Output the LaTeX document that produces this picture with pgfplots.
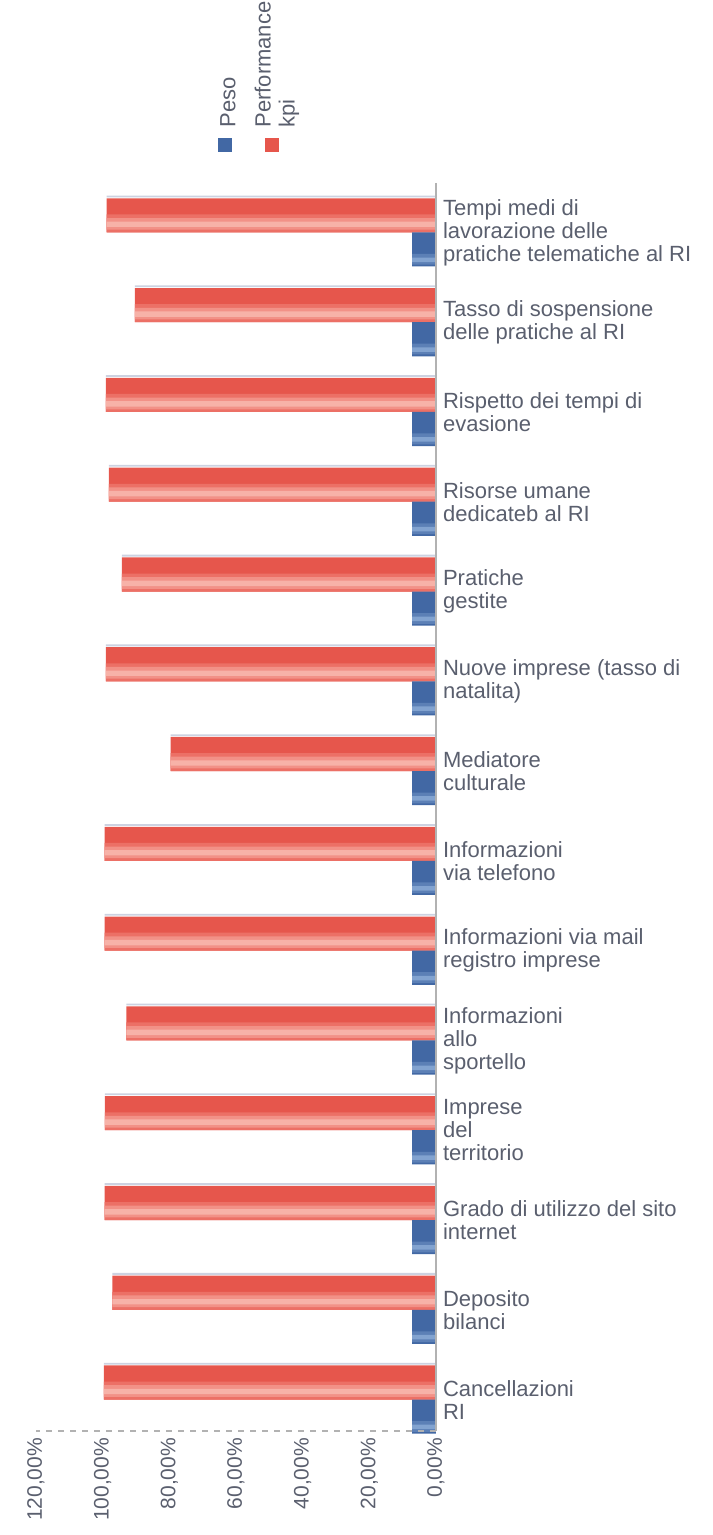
\documentclass[border=0pt]{standalone}
\usepackage{pgfplots}
\pgfplotsset{compat=1.18}
\usepackage{fontspec}
\setmainfont{Liberation Sans}
\definecolor{redbase}{RGB}{230,86,76}
\definecolor{redmid}{RGB}{236,112,102}
\definecolor{redlight}{RGB}{242,145,135}
\definecolor{redpale}{RGB}{247,178,168}
\definecolor{bluebase}{RGB}{66,104,164}
\definecolor{bluemid}{RGB}{92,128,182}
\definecolor{bluelight}{RGB}{130,163,208}
\definecolor{edge}{RGB}{205,210,225}
\definecolor{txt}{RGB}{90,95,110}
\pgfplotstableread{
idx perf peso
0 98.8 7.14
1 90.3 7.14
2 99.0 7.14
3 98.1 7.14
4 94.2 7.14
5 99.0 7.14
6 79.6 7.14
7 99.4 7.14
8 99.4 7.14
9 92.9 7.14
10 99.3 7.14
11 99.4 7.14
12 97.1 7.14
13 99.6 7.14
}\data
\begin{document}
\begin{tikzpicture}
\useasboundingbox (-18pt,-52pt) rectangle (338pt,715.5pt);
\begin{axis}[
 at={(0,0)}, anchor=south west,
 scale only axis, width=200pt, height=624pt,
 x dir=reverse, y dir=reverse,
 xmin=0, xmax=120, ymin=-0.55, ymax=13.35,
 axis line style={draw=none},
 major tick length=0pt,
 xtick={0,20,...,120},
 xticklabels={{0,00\%},{20,00\%},{40,00\%},{60,00\%},{80,00\%},{100,00\%},{120,00\%}},
 xticklabel style={rotate=90, anchor=east, font=\fontsize{10.5}{12}\selectfont, text=txt},
 ytick={0,...,13},
 yticklabel pos=right,
 yticklabels={
  {Tempi medi di\\lavorazione delle\\pratiche telematiche al RI},
  {Tasso di sospensione\\delle pratiche al RI},
  {Rispetto dei tempi di\\evasione},
  {Risorse umane\\dedicateb al RI},
  {Pratiche\\gestite},
  {Nuove imprese (tasso di\\natalita)},
  {Mediatore\\culturale},
  {Informazioni\\via telefono},
  {Informazioni via mail\\registro imprese},
  {Informazioni\\allo\\sportello},
  {Imprese\\del\\territorio},
  {Grado di utilizzo del sito\\internet},
  {Deposito\\bilanci},
  {Cancellazioni\\RI}},
 yticklabel style={anchor=west, align=left, font=\fontsize{11}{11.5}\selectfont, text=txt},
 clip=false,
]
% Performance kpi (red) with lighter lower band
\addplot[xbar, bar width=0.38, bar shift=-0.19, draw=none, fill=redbase] table[x=perf, y=idx] {\data};
\addplot[xbar, bar width=0.20, bar shift=-0.10, draw=none, fill=redmid, forget plot] table[x=perf, y=idx] {\data};
\addplot[xbar, bar width=0.13, bar shift=-0.095, draw=none, fill=redlight, forget plot] table[x=perf, y=idx] {\data};
\addplot[xbar, bar width=0.06, bar shift=-0.09, draw=none, fill=redpale, forget plot] table[x=perf, y=idx] {\data};
\addplot[xbar, bar width=0.02, bar shift=-0.40, draw=none, fill=edge, forget plot] table[x=perf, y=idx] {\data};
% Peso (blue)
\addplot[xbar, bar width=0.38, bar shift=0.19, draw=none, fill=bluebase] table[x=peso, y=idx] {\data};
\addplot[xbar, bar width=0.12, bar shift=0.30, draw=none, fill=bluemid, forget plot] table[x=peso, y=idx] {\data};
\addplot[xbar, bar width=0.05, bar shift=0.305, draw=none, fill=bluelight, forget plot] table[x=peso, y=idx] {\data};
\draw[gray!60, line width=0.6pt] (axis cs:0,-0.55) -- (axis cs:0,13.35);
\draw[gray!60, dashed, line width=0.6pt] (axis cs:0,13.35) -- (axis cs:120,13.35);
\end{axis}
\fill[bluebase] (91pt,639.5pt) rectangle (98pt,646.5pt);
\fill[redbase] (114.5pt,639.5pt) rectangle (121.5pt,646.5pt);
\node[rotate=90, anchor=west, inner sep=0pt, text=txt, font=\fontsize{11}{12}\selectfont] at (96pt,651.5pt) {Peso};
\node[rotate=90, anchor=west, inner sep=0pt, align=left, text=txt, font=\fontsize{11}{12}\selectfont] at (120.5pt,651.5pt) {Performance\\kpi};
\end{tikzpicture}
\end{document}
